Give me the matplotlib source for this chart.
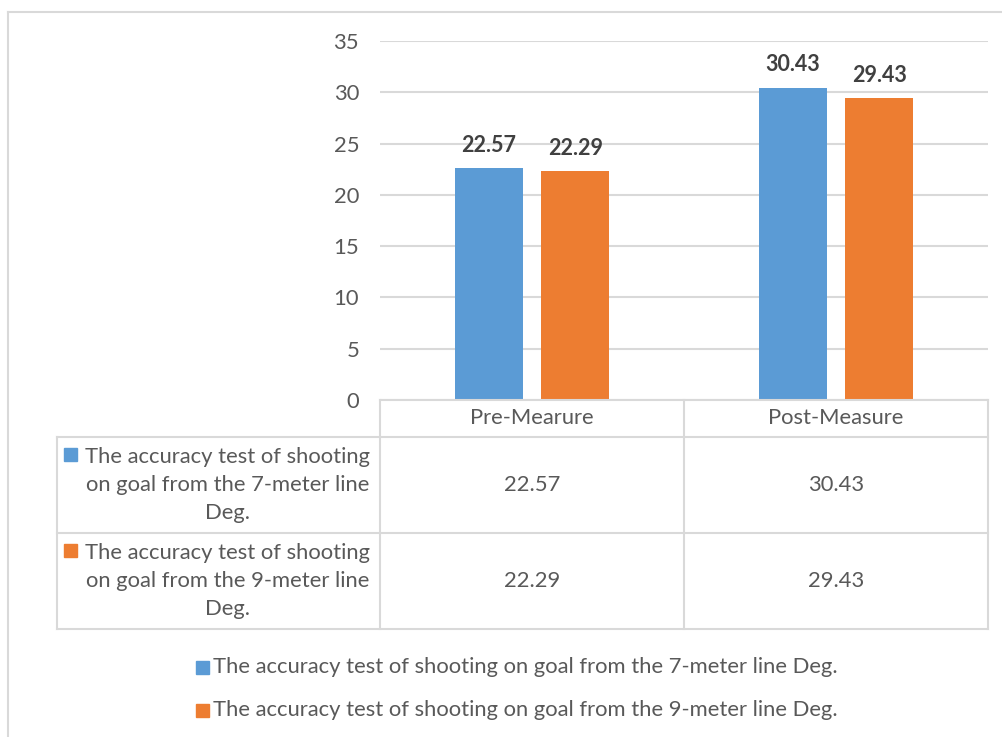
import matplotlib.pyplot as plt
from matplotlib.lines import Line2D
from matplotlib.patches import Rectangle

categories = ["Pre-Mearure", "Post-Measure"]
series_names = ["The accuracy test of shooting on goal from the 7-meter line Deg.",
                "The accuracy test of shooting on goal from the 9-meter line Deg."]
row_labels = ["The accuracy test of shooting\non goal from the 7-meter line\nDeg.",
              "The accuracy test of shooting\non goal from the 9-meter line\nDeg."]
values_7m = [22.57, 30.43]
values_9m = [22.29, 29.43]
colors = ["#5B9BD5", "#ED7D31"]
yticks = [0, 5, 10, 15, 20, 25, 30, 35]

W, H = 1003, 737
txt = "#595959"
grid = "#D9D9D9"
fs = 15.8
plt.rcParams['font.family'] = ['Lato', 'DejaVu Sans']

fig = plt.figure(figsize=(W / 100, H / 100), dpi=100)

def fx(px):
    return px / W

def fy(py):
    return 1 - py / H

ax = fig.add_axes([fx(380), fy(400), fx(988) - fx(380), fy(41) - fy(400)])
x = [0, 1]
off, bw = 0.142, 0.222
for i, (vals, c) in enumerate(zip([values_7m, values_9m], colors)):
    xs = [xi + (off if i else -off) for xi in x]
    ax.bar(xs, vals, width=bw, color=c, zorder=3)
    for xv, v in zip(xs, vals):
        ax.annotate(f"{v:.2f}", (xv, v), xytext=(0, 9), textcoords="offset points",
                    ha="center", va="bottom", fontsize=15.5, fontweight="bold", color="#404040")
ax.set_xlim(-0.5, 1.5)
ax.set_ylim(0, 35)
ax.set_yticks(yticks)
ax.yaxis.grid(True, color=grid, linewidth=1.5, zorder=0)
ax.tick_params(axis="y", length=0, pad=15, labelsize=fs, labelcolor=txt)
ax.set_xticks([])
for s in ax.spines.values():
    s.set_visible(False)

def hline(py, x0, x1):
    fig.add_artist(Line2D([fx(x0), fx(x1)], [fy(py), fy(py)], color=grid, lw=1.5))

def vline(px, y0, y1):
    fig.add_artist(Line2D([fx(px), fx(px)], [fy(y0), fy(y1)], color=grid, lw=1.5))

# outer chart border
hline(12, 8, 1003)
vline(8, 12, 737)

# data table
hline(400, 380, 988)
for py in [437, 533, 629]:
    hline(py, 57, 988)
for px in [380, 684, 988]:
    vline(px, 400, 629)
vline(57, 437, 629)

col_c = [532, 836]
for cx, lab in zip(col_c, categories):
    fig.text(fx(cx), fy(418), lab, ha="center", va="center", fontsize=fs, color=txt)

row_c = [485, 581]
for r, (lab, vals, c) in enumerate(zip(row_labels, [values_7m, values_9m], colors)):
    fig.text(fx(370), fy(row_c[r]), lab, ha="right", va="center", fontsize=fs,
             color=txt, linespacing=1.5, multialignment="center")
    fig.add_artist(Rectangle((fx(64), fy(row_c[r] - 24)), fx(13), fy(0) - fy(13),
                             color=c, transform=fig.transFigure))
    for cx, v in zip(col_c, vals):
        fig.text(fx(cx), fy(row_c[r]), f"{v:.2f}", ha="center", va="center",
                 fontsize=fs, color=txt)

# legend
for py, name, c in zip([667, 710], series_names, colors):
    fig.add_artist(Rectangle((fx(196), fy(py + 7)), fx(13), fy(0) - fy(13),
                             color=c, transform=fig.transFigure))
    fig.text(fx(213), fy(py), name, ha="left", va="center", fontsize=fs, color=txt)

fig.savefig("out.png", dpi=100, facecolor="white")
